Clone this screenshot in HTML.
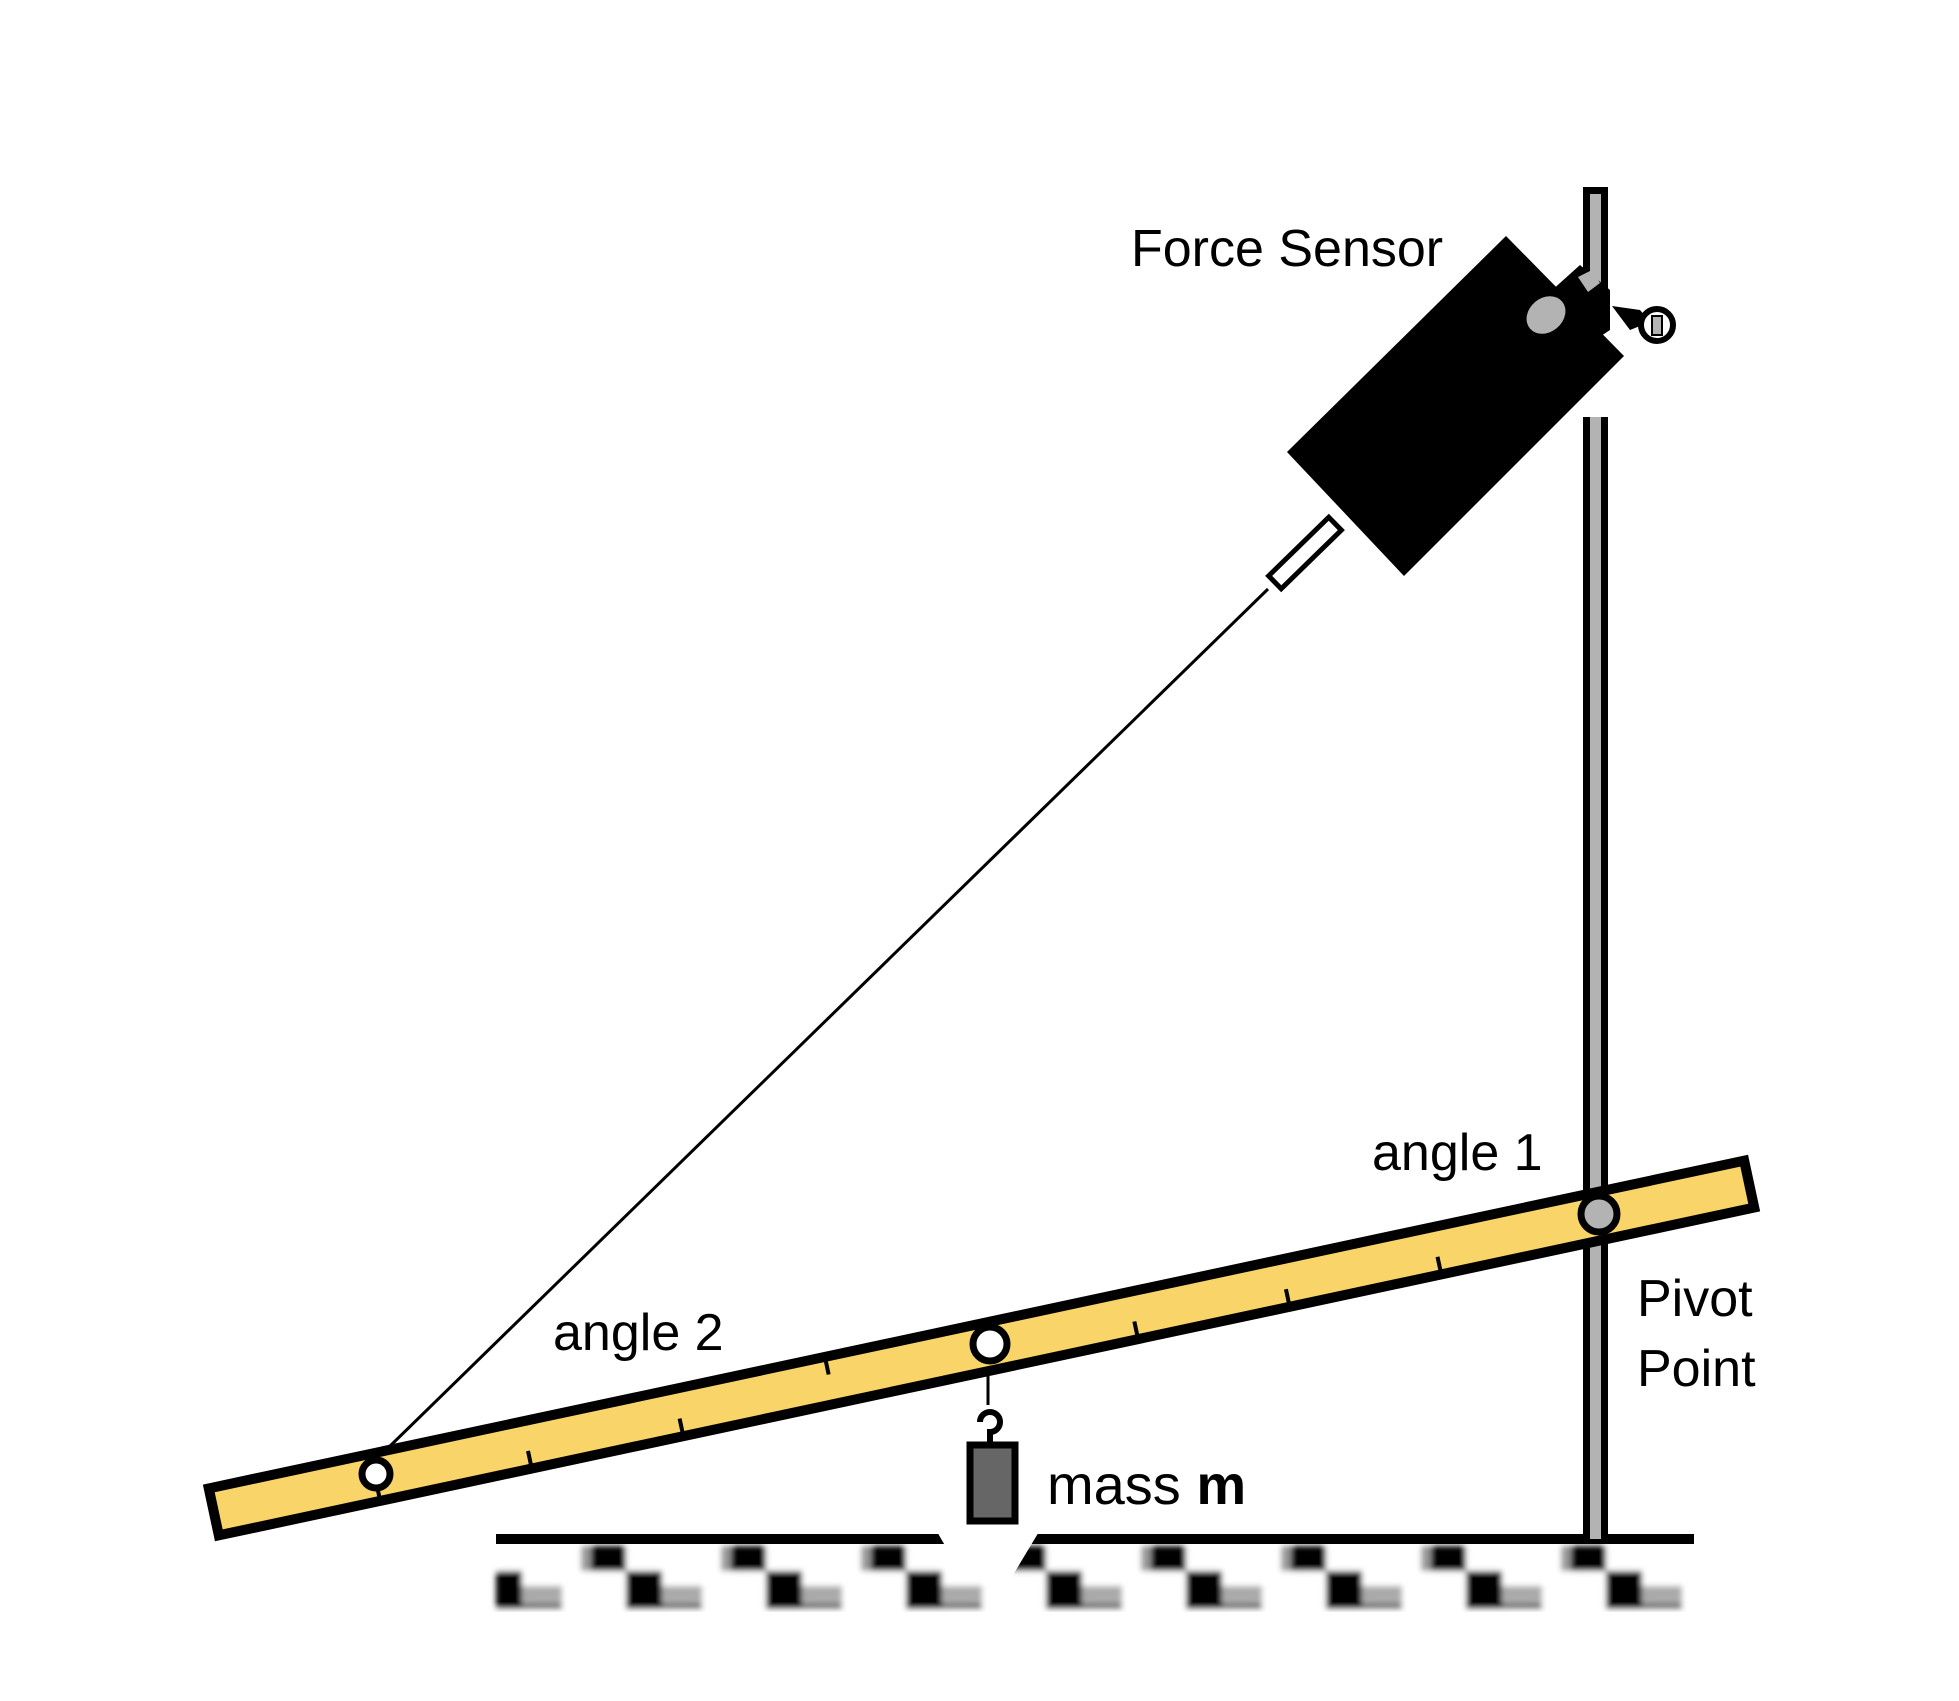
<!DOCTYPE html>
<html><head><meta charset="utf-8"><style>
html,body{margin:0;padding:0;background:#fff;}
svg{display:block;}
text{font-family:"Liberation Sans",sans-serif;fill:#000;}
</style></head><body>
<svg width="1959" height="1701" viewBox="0 0 1959 1701" xmlns="http://www.w3.org/2000/svg">
<defs>
<pattern id="chk" x="496" y="1546" width="140" height="66" patternUnits="userSpaceOnUse">
<rect x="0" y="0" width="140" height="66" fill="#fff"/>
<rect x="95" y="0" width="35" height="25" fill="#000"/>
<rect x="85" y="0" width="10" height="25" fill="#999"/>
<rect x="130" y="25" width="36" height="38" fill="#000"/>
<rect x="0" y="25" width="26" height="38" fill="#000"/>
<rect x="26" y="40" width="40" height="22" fill="#aaa"/>
<rect x="26" y="58" width="40" height="5" fill="#555"/>
</pattern>
<filter id="bl"><feGaussianBlur stdDeviation="3"/></filter>
</defs>
<!-- ground -->
<rect x="496" y="1546" width="1198" height="66" fill="url(#chk)" filter="url(#bl)"/>
<rect x="490" y="1612" width="1210" height="10" fill="#fff"/>
<rect x="1694" y="1540" width="10" height="80" fill="#fff"/>
<rect x="496" y="1534" width="1198" height="10" fill="#000"/>
<polygon points="936,1530 1040,1530 1010,1580 965,1580" fill="#fff"/>
<!-- stand rod -->
<rect x="1583" y="187" width="25" height="120" fill="#000"/>
<rect x="1590" y="194" width="11" height="113" fill="#b3b3b3"/>
<rect x="1583" y="417" width="25" height="1122" fill="#000"/>
<rect x="1590" y="417" width="11" height="1122" fill="#b3b3b3"/>
<!-- sensor box -->
<polygon points="1287,452 1506,236 1624,356 1404,576" fill="#000"/>
<polygon points="1550,292 1580,265 1610,290 1610,330 1595,340 1580,330" fill="#000"/>
<polygon points="1578,277 1592,270 1600,283 1588,292" fill="#b3b3b3"/>
<ellipse cx="1546" cy="315" rx="21" ry="17" transform="rotate(-40 1546 315)" fill="#b3b3b3"/>
<polygon points="1612,306 1640,310 1650,322 1630,330" fill="#000"/>
<circle cx="1657" cy="325" r="16" fill="#fff" stroke="#000" stroke-width="6"/>
<rect x="1652" y="316" width="10" height="19" fill="#b3b3b3" stroke="#000" stroke-width="2"/>
<!-- string -->
<line x1="387" y1="1449" x2="1268" y2="589" stroke="#000" stroke-width="3"/>
<g transform="translate(1305,553) rotate(-44.3)">
<rect x="-42" y="-9" width="84" height="18" fill="#fff" stroke="#000" stroke-width="5"/>
</g>
<!-- beam -->
<g transform="translate(981.5,1348) rotate(-12.05)">
<rect x="-785" y="-24" width="1570" height="48" fill="#f8d469" stroke="#000" stroke-width="10"/>
<g stroke="#000" stroke-width="4">
<line x1="-620" y1="6" x2="-620" y2="24"/>
<line x1="-465" y1="6" x2="-465" y2="24"/>
<line x1="-310" y1="6" x2="-310" y2="24"/>
<line x1="-155" y1="-24" x2="-155" y2="-6"/>
<line x1="155" y1="6" x2="155" y2="24"/>
<line x1="310" y1="6" x2="310" y2="24"/>
<line x1="465" y1="6" x2="465" y2="24"/>
</g>
</g>
<!-- holes -->
<circle cx="376" cy="1474" r="14" fill="#fff" stroke="#000" stroke-width="7"/>
<circle cx="990" cy="1344" r="17" fill="#fff" stroke="#000" stroke-width="7"/>
<circle cx="1599" cy="1214" r="18" fill="#b3b3b3" stroke="#000" stroke-width="7"/>
<!-- mass hanger -->
<line x1="988" y1="1376" x2="988" y2="1405" stroke="#000" stroke-width="3"/>
<path d="M980,1422 A10,10 0 1 1 990,1432 L990,1445" fill="none" stroke="#000" stroke-width="6"/>
<rect x="970" y="1445" width="45" height="76" fill="#666" stroke="#000" stroke-width="7"/>
<!-- labels -->
<text x="1131" y="266" font-size="52">Force Sensor</text>
<text x="1372" y="1170" font-size="52">angle 1</text>
<text x="553" y="1350" font-size="52">angle 2</text>
<text x="1637" y="1316" font-size="52">Pivot</text>
<text x="1637" y="1386" font-size="52">Point</text>
<text x="1047" y="1504" font-size="56">mass <tspan font-weight="bold">m</tspan></text>
</svg>
</body></html>
